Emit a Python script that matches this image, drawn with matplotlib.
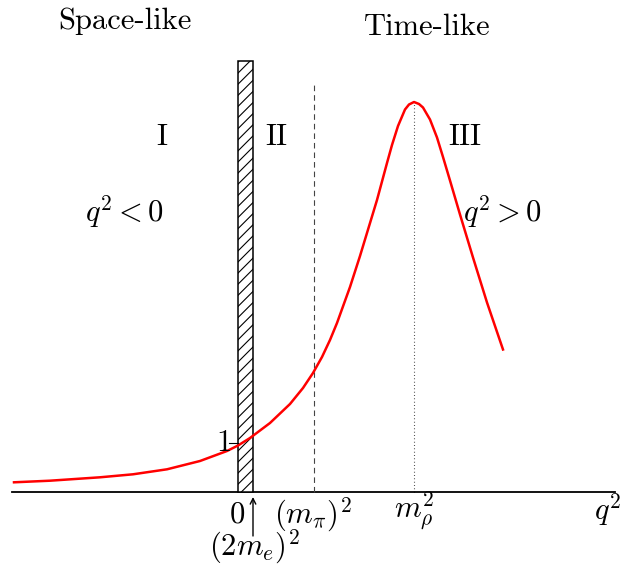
import matplotlib
matplotlib.use("Agg")
import matplotlib.pyplot as plt
from matplotlib.patches import Rectangle

plt.rcParams['mathtext.fontset'] = 'cm'
plt.rcParams['font.family'] = 'cmr10'
plt.rcParams['hatch.linewidth'] = 0.8

# form factor curve (q^2 in arbitrary units, |F|^2 relative)
q2 = [-2.24, -1.88, -1.38, -1.05, -0.71, -0.38, -0.11, 0.0, 0.12, 0.32,
      0.52, 0.65, 0.75, 0.84, 0.92, 0.99, 1.12, 1.22, 1.39, 1.49, 1.54,
      1.60, 1.67, 1.71, 1.76, 1.81, 1.85, 1.92, 1.99, 2.05, 2.12, 2.22,
      2.35, 2.49, 2.65]
ff = [0.194, 0.226, 0.294, 0.354, 0.454, 0.62, 0.82, 0.93, 1.08, 1.38,
      1.76, 2.08, 2.38, 2.70, 3.04, 3.38, 4.10, 4.72, 5.84, 6.58, 6.94,
      7.32, 7.65, 7.75, 7.80, 7.76, 7.69, 7.45, 7.09, 6.70, 6.23, 5.55,
      4.69, 3.79, 2.85]

# marked thresholds on the q^2 axis
q2_zero = 0.0
q2_2me = 0.15
q2_pi = 0.76
q2_rho = 1.76
ff_peak = 7.80

fig = plt.figure(figsize=(6.29, 5.67), dpi=100)
ax = fig.add_axes([0, 0, 1, 1])
ax.set_xlim(-2.38, 3.91)
ax.set_ylim(-1.5, 9.84)
ax.axis('off')

# q^2 axis
ax.plot([-2.26, 3.77], [0, 0], color='black', lw=1.3)

# unphysical region between 0 and (2m_e)^2
ax.add_patch(Rectangle((q2_zero, 0), q2_2me - q2_zero, 8.62, facecolor='white',
                       edgecolor='black', hatch='///', lw=1.1, zorder=2))

ax.plot([q2_pi, q2_pi], [0, 8.14], color='#444444', lw=0.8, dashes=(5, 3.6))
ax.plot([q2_rho, q2_rho], [0, ff_peak], color='black', lw=0.8,
        linestyle=(0, (0.6, 2.4)))

ax.plot(q2, ff, color='red', lw=1.8, zorder=3, solid_joinstyle='round')

# tick at 1
ax.plot([-0.09, 0.0], [0.98, 0.98], color='black', lw=0.8, zorder=4)
ax.text(-0.075, 0.98, '$1$', ha='right', va='center', fontsize=22)

fs = 22
ax.text(-1.13, 9.42, 'Space-like', ha='center', va='center', fontsize=fs)
ax.text(1.895, 9.3, 'Time-like', ha='center', va='center', fontsize=fs)
ax.text(-0.76, 7.1, 'I', ha='center', va='center', fontsize=fs)
ax.text(0.38, 7.1, 'II', ha='center', va='center', fontsize=fs)
ax.text(2.27, 7.1, 'III', ha='center', va='center', fontsize=fs)
ax.text(-1.135, 5.6, '$q^2<0$', ha='center', va='center', fontsize=fs)
ax.text(2.64, 5.6, '$q^2>0$', ha='center', va='center', fontsize=fs)

ax.text(-0.005, -0.46, '$0$', ha='center', va='center', fontsize=fs)
ax.text(q2_pi - 0.01, -0.46, r'$(m_\pi)^2$', ha='center', va='center', fontsize=fs)
ax.text(q2_rho, -0.38, r'$m_\rho^2$', ha='center', va='center', fontsize=fs)
ax.text(3.70, -0.36, '$q^2$', ha='center', va='center', fontsize=fs)
ax.text(0.16, -1.1, '$(2m_e)^2$', ha='center', va='center', fontsize=fs)
ax.annotate('', xy=(q2_2me, -0.1), xytext=(q2_2me, -0.88),
            arrowprops=dict(arrowstyle='->', lw=1.0, color='black',
                            shrinkA=0, shrinkB=0))

fig.savefig('out.png', dpi=100)
